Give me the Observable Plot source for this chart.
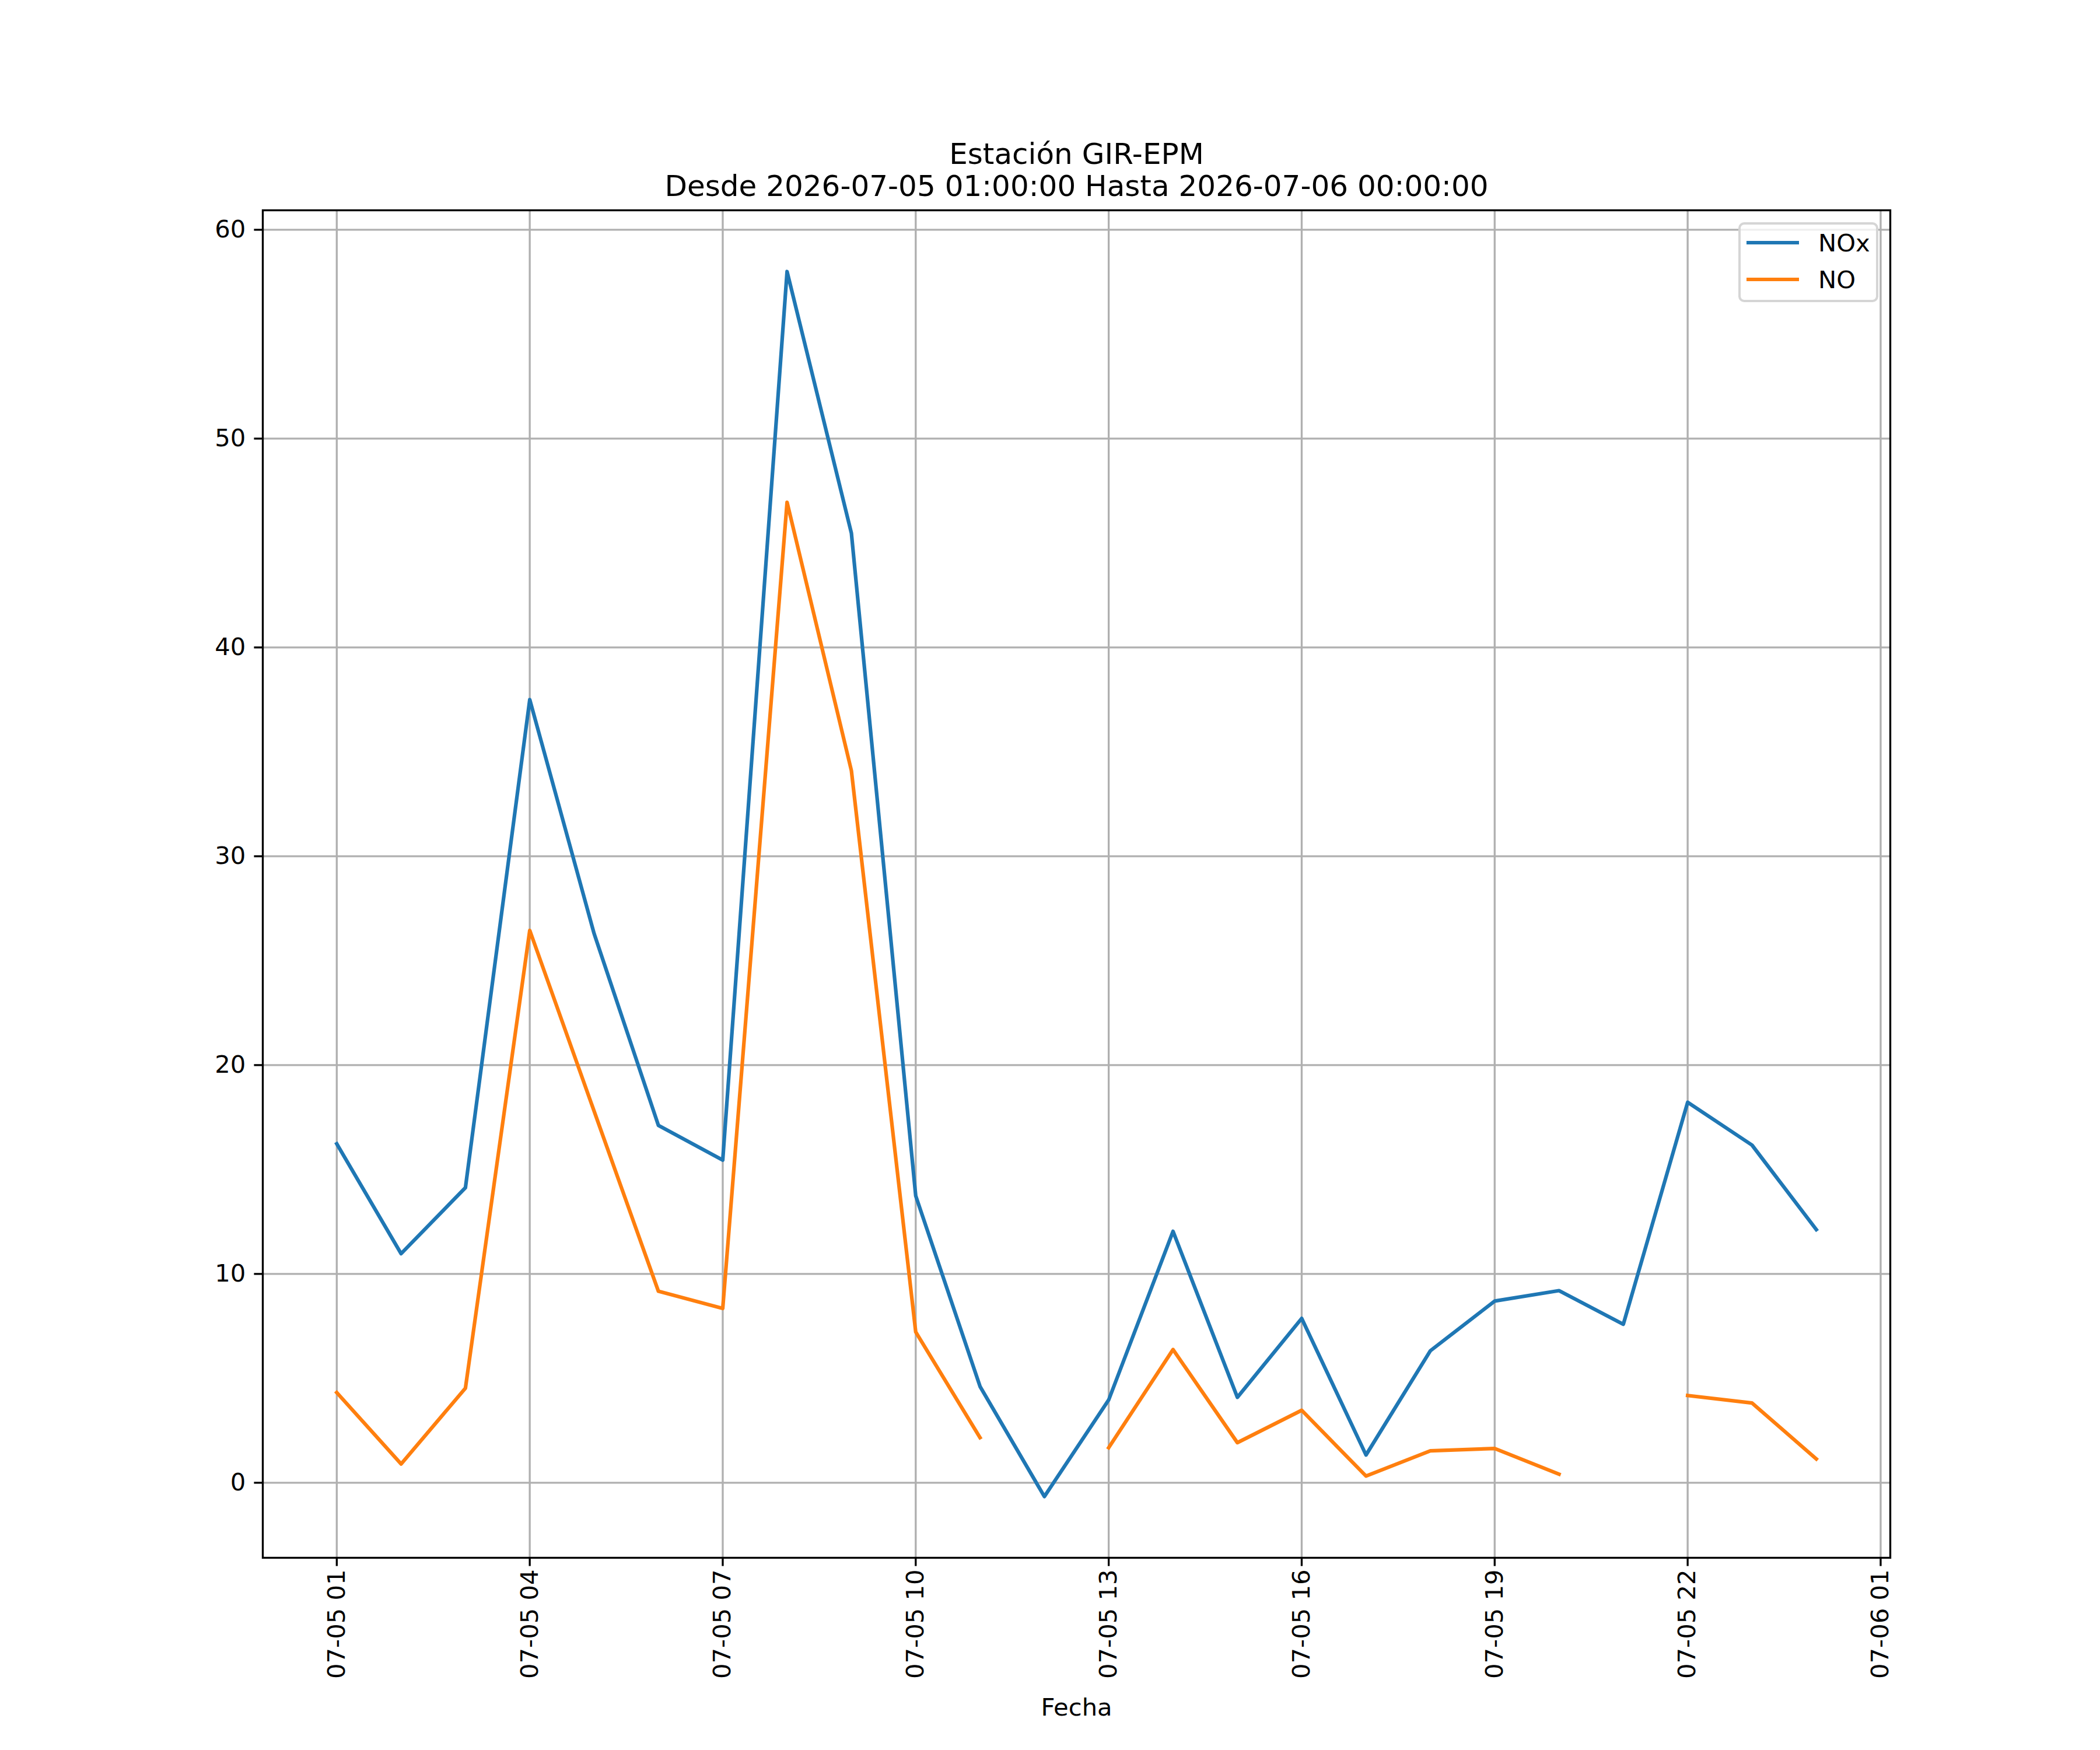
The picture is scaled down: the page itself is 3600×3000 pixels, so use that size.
<!DOCTYPE html>
<html>
<head>
<meta charset="utf-8">
<script src="https://cdn.jsdelivr.net/npm/d3@7"></script>
<script src="https://cdn.jsdelivr.net/npm/@observablehq/plot@0.6"></script>
<style>
  body { margin: 0; background: #fff; }
  #wrap { position: relative; width: 3600px; height: 3000px; font-family: "DejaVu Sans", sans-serif; }
  #legend { position: absolute; left: 2980px; top: 381px; width: 240px; height: 137px; box-sizing: border-box;
            border: 4px solid #d5d5d5; border-radius: 10px; background: rgba(255,255,255,0.8); }
  .sw { position: absolute; left: 10px; width: 90px; height: 6.25px; }
  .lb { position: absolute; left: 133px; font-size: 41.7px; line-height: 1; color: #000; white-space: nowrap; }
</style>
</head>
<body>
<div id="wrap"></div>
<script>
// ---- data ----
const times = [
  "2026-07-05T01:00:00Z","2026-07-05T02:00:00Z","2026-07-05T03:00:00Z","2026-07-05T04:00:00Z",
  "2026-07-05T05:00:00Z","2026-07-05T06:00:00Z","2026-07-05T07:00:00Z","2026-07-05T08:00:00Z",
  "2026-07-05T09:00:00Z","2026-07-05T10:00:00Z","2026-07-05T11:00:00Z","2026-07-05T12:00:00Z",
  "2026-07-05T13:00:00Z","2026-07-05T14:00:00Z","2026-07-05T15:00:00Z","2026-07-05T16:00:00Z",
  "2026-07-05T17:00:00Z","2026-07-05T18:00:00Z","2026-07-05T19:00:00Z","2026-07-05T20:00:00Z",
  "2026-07-05T21:00:00Z","2026-07-05T22:00:00Z","2026-07-05T23:00:00Z","2026-07-06T00:00:00Z"
];
const seriesNames = ["NOx", "NO"];
const seriesColors = ["#1f77b4", "#ff7f0e"];
const noxValues = [16.23, 10.97, 14.13, 37.5, 26.3, 17.11, 15.45, 58.0, 45.47, 13.74, 4.61, -0.66,
                   3.97, 12.04, 4.09, 7.87, 1.33, 6.32, 8.7, 9.2, 7.59, 18.22, 16.17, 12.12];
const noValues  = [4.32, 0.9, 4.53, 26.45, 17.8, 9.17, 8.35, 46.95, 34.1, 7.22, 2.16, null,
                   1.68, 6.38, 1.92, 3.47, 0.32, 1.53, 1.64, 0.41, null, 4.18, 3.82, 1.14];
const yTicks = [0, 10, 20, 30, 40, 50, 60];
const xTickTimes = [
  "2026-07-05T01:00:00Z","2026-07-05T04:00:00Z","2026-07-05T07:00:00Z","2026-07-05T10:00:00Z",
  "2026-07-05T13:00:00Z","2026-07-05T16:00:00Z","2026-07-05T19:00:00Z","2026-07-05T22:00:00Z",
  "2026-07-06T01:00:00Z"
];
const titleLines = ["Estación GIR-EPM", "Desde 2026-07-05 01:00:00 Hasta 2026-07-06 00:00:00"];
const xLabel = "Fecha";

// ---- build ----
const rows = times.flatMap((t, i) => [
  {time: new Date(t), value: noxValues[i], series: seriesNames[0]},
  {time: new Date(t), value: noValues[i], series: seriesNames[1]}
]);
const xTickDates = xTickTimes.map(t => new Date(t));
const fmt = d3.utcFormat("%m-%d %H");

const t0 = new Date(times[0]), t1 = new Date(times[times.length - 1]);
const xPad = (t1 - t0) * 0.05;
const xDomain = [new Date(+t0 - xPad), new Date(+t1 + xPad)];
const allVals = noxValues.concat(noValues).filter(v => v != null);
const [vMin, vMax] = d3.extent(allVals);
const yPad = (vMax - vMin) * 0.05;
const yDomain = [vMin - yPad, vMax + yPad];

const lw = 3.33;
const chart = Plot.plot({
  width: 3600, height: 3000,
  marginLeft: 450, marginRight: 360, marginTop: 360, marginBottom: 330,
  style: {fontFamily: "DejaVu Sans, sans-serif", background: "#fff", color: "#000", overflow: "visible"},
  x: {type: "utc", domain: xDomain, label: null},
  y: {domain: yDomain, label: null},
  color: {domain: seriesNames, range: seriesColors},
  marks: [
    Plot.gridX(xTickDates, {stroke: "#b0b0b0", strokeOpacity: 1, strokeWidth: lw}),
    Plot.gridY(yTicks, {stroke: "#b0b0b0", strokeOpacity: 1, strokeWidth: lw}),
    Plot.line(rows, {x: "time", y: "value", z: "series", stroke: "series",
                     strokeWidth: 6.25, strokeLinecap: "square", strokeLinejoin: "round"}),
    Plot.frame({stroke: "#000", strokeWidth: lw}),
    Plot.axisY(yTicks, {tickSize: 14.6, tickPadding: 14.6, strokeWidth: lw, fontSize: 41.7,
                        tickFormat: d => String(d), label: null}),
    Plot.axisX(xTickDates, {tickSize: 14.6, strokeWidth: lw, tickFormat: () => "", label: null}),
    Plot.text(xTickDates, {x: d => d, frameAnchor: "bottom", dy: 20, rotate: -90,
                           textAnchor: "end", lineAnchor: "middle", text: d => fmt(d),
                           fontSize: 41.7, fill: "#000"}),
    Plot.text([titleLines[0]], {frameAnchor: "top", dy: -96, text: d => d, fontSize: 50,
                                lineAnchor: "middle", textAnchor: "middle", fill: "#000"}),
    Plot.text([titleLines[1]], {frameAnchor: "top", dy: -41, text: d => d, fontSize: 50,
                                lineAnchor: "middle", textAnchor: "middle", fill: "#000"}),
    Plot.text([xLabel], {frameAnchor: "bottom", dy: 257, text: d => d, fontSize: 41.7,
                         lineAnchor: "middle", textAnchor: "middle", fill: "#000"})
  ]
});

const wrap = document.getElementById("wrap");
wrap.appendChild(chart);

// legend overlay
const legend = document.createElement("div");
legend.id = "legend";
const centers = [31, 94];
seriesNames.forEach((name, i) => {
  const sw = document.createElement("div");
  sw.className = "sw";
  sw.style.top = (centers[i] - 3.1) + "px";
  sw.style.background = seriesColors[i];
  legend.appendChild(sw);
  const lb = document.createElement("div");
  lb.className = "lb";
  lb.style.top = (centers[i] - 20) + "px";
  lb.textContent = name;
  legend.appendChild(lb);
});
wrap.appendChild(legend);
</script>
</body>
</html>
